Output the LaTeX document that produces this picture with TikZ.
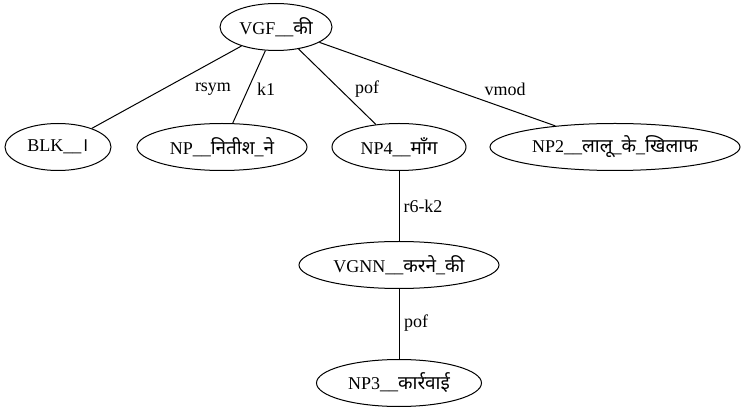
\documentclass[tikz,border=0pt]{standalone}
\usepackage{fontspec}
\setmainfont{Liberation Serif}
\newfontfamily\devfont[Script=Devanagari,Scale=1.05]{Noto Sans}
\usepackage{tikz}
\usetikzlibrary{positioning,shapes.geometric}
\newcommand{\hin}[1]{{\devfont #1}}

\begin{document}
\begin{tikzpicture}[x=1pt, y=-1pt, font=\fontsize{18}{21}\selectfont, line width=1pt,
		chunk/.style={draw, ellipse, minimum height=47pt, inner sep=0pt},
		rel/.style={inner sep=0pt},
		node distance=70pt]
	\useasboundingbox (0,0) rectangle (744,411);

	\node[chunk, minimum width=112pt] (vgf) at (276,27) {VGF\_\_\hin{की}};
	\node[chunk, minimum width=106pt] (blk) at (58,147) {BLK\_\_\hin{।}};
	\node[chunk, minimum width=170pt] (np) at (222,147) {NP\_\_\hin{नितीश}\_\hin{ने}};
	\node[chunk, minimum width=134pt] (np4) at (399,147) {NP4\_\_\hin{माँग}};
	\node[chunk, minimum width=250pt] (np2) at (615,147) {NP2\_\_\hin{लालू}\_\hin{के}\_\hin{खिलाफ}};
	\node[chunk, minimum width=200pt, below=of np4] (vgnn) {VGNN\_\_\hin{करने}\_\hin{की}};
	\node[chunk, minimum width=165pt, below=of vgnn] (np3) {NP3\_\_\hin{कार्रवाई}};

	\draw (vgf) -- (blk) node[rel] at (213,89) {rsym};
	\draw (vgf) -- (np) node[rel] at (266,89) {k1};
	\draw (vgf) -- (np4) node[rel] at (367,89) {pof};
	\draw (vgf) -- (np2) node[rel] at (505,89) {vmod};
	\draw (np4) -- (vgnn) node[rel] at (423,206) {r6-k2};
	\draw (vgnn) -- (np3) node[rel] at (416,323) {pof};
\end{tikzpicture}
\end{document}
